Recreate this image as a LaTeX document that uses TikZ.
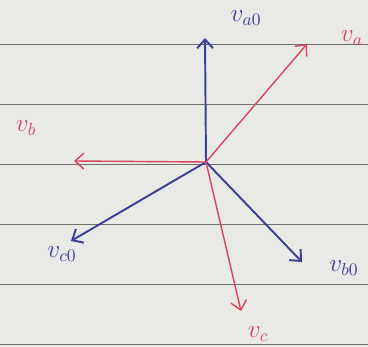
\documentclass[tikz,border=0pt]{standalone}
\usepackage{xcolor}
\usetikzlibrary{arrows.meta, positioning}

\definecolor{paper}{HTML}{E9E9E6}
\definecolor{ruled}{HTML}{6E6E6E}
\definecolor{penblue}{HTML}{3B3F9A}
\definecolor{penred}{HTML}{D9445E}

\begin{document}
\begin{tikzpicture}[x=0.02cm, y=-0.02cm,
  bvec/.style={draw=penblue, line width=1.1pt, -{Straight Barb[length=5pt, width=9pt]}},
  rvec/.style={draw=penred, line width=0.8pt, -{Straight Barb[length=5pt, width=9pt]}},
  blab/.style={text=penblue, font=\Large},
  rlab/.style={text=penred, font=\Large},
  rule/.style={draw=ruled, line width=0.5pt}
]
%% paper and ruling
\fill[paper] (0,0) rectangle (368,347);
\clip (0,0) rectangle (368,347);
\foreach \y in {44,104,164,224,284,344}
  \draw[rule] (0,\y) -- (368,\y);
%% phasor tips
\coordinate (o) at (206,162);
\coordinate (va0) at (205,38);
\coordinate (va) at (307,44);
\coordinate (vb) at (74,161);
\coordinate (vc0) at (71,241);
\coordinate (vb0) at (302,262);
\coordinate (vc) at (241,311);
%% blue phasors
\draw[bvec] (o) -- (va0);
\draw[bvec] (o) -- (vc0);
\draw[bvec] (o) -- (vb0);
%% red phasors
\draw[rvec] (o) -- (va);
\draw[rvec] (o) -- (vb);
\draw[rvec] (o) -- (vc);
%% labels
\node[blab] (lva0) at (246,18) {$v_{a0}$};
\node[rlab] (lva) at (352,38) {$v_{a}$};
\node[rlab] (lvb) at (26,128) {$v_{b}$};
\node[blab] (lvc0) at (62,254) {$v_{c0}$};
\node[blab] (lvb0) at (344,268) {$v_{b0}$};
\node[rlab] (lvc) at (258,334) {$v_{c}$};
\end{tikzpicture}
\end{document}
